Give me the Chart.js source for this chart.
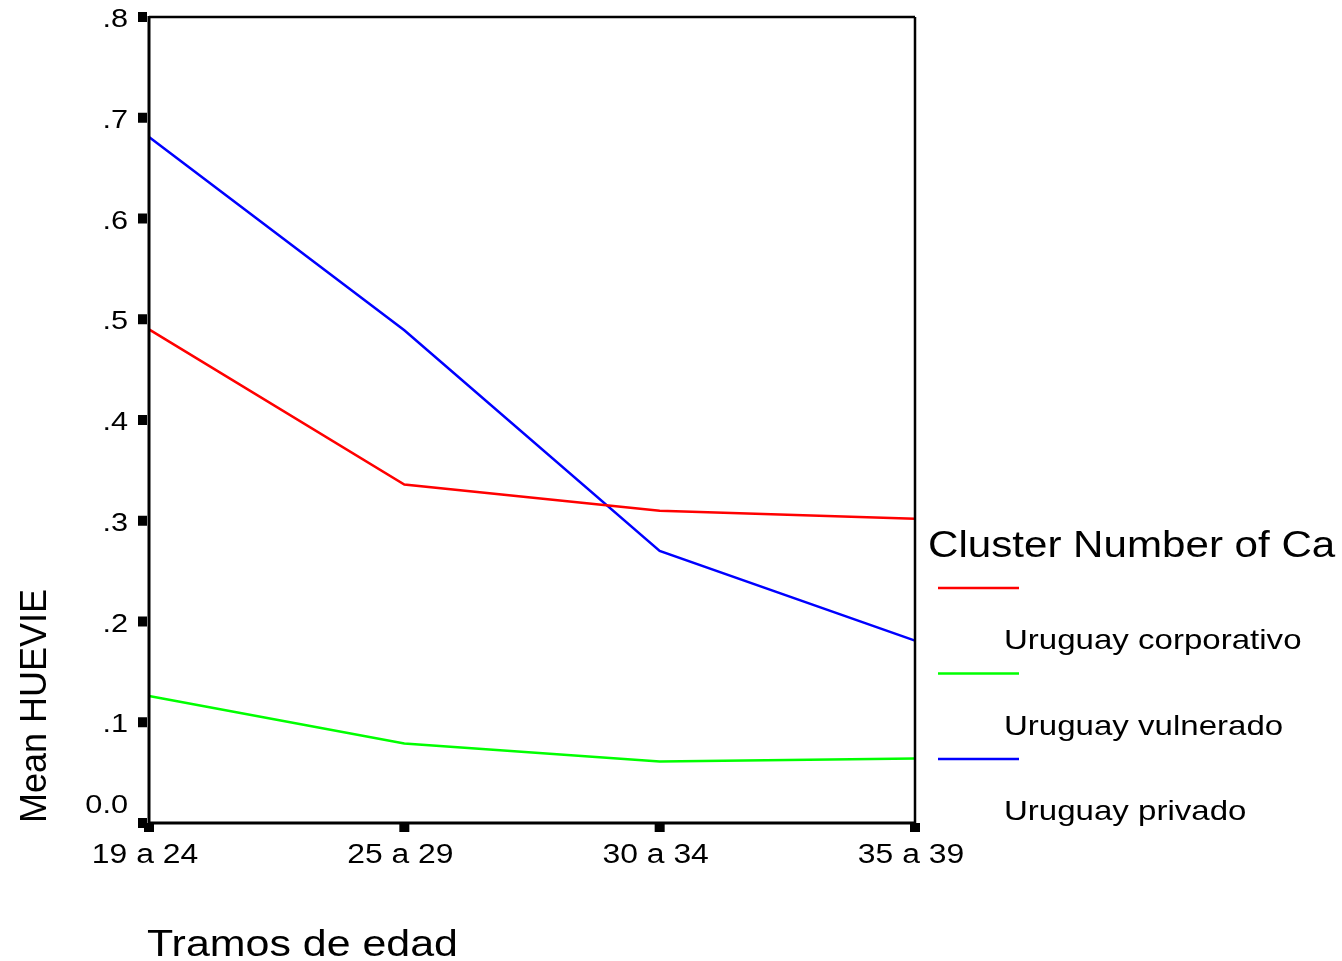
<!DOCTYPE html>
<html>
<head>
<meta charset="utf-8">
<title>Mean HUEVIE por tramos de edad</title>
<script src="https://cdn.jsdelivr.net/npm/chart.js@4/dist/chart.umd.min.js"></script>
<style>
    html, body { margin: 0; padding: 0; background: #fff; }
    canvas { display: block; }
</style>
</head>
<body>
<canvas id="huevieChart" width="1342" height="961"></canvas>
<script>
// data
var ageGroups = ['19 a 24', '25 a 29', '30 a 34', '35 a 39'];
var corporativo = [0.490, 0.336, 0.310, 0.302];
var vulnerado = [0.126, 0.079, 0.061, 0.064];
var privado = [0.681, 0.489, 0.270, 0.181];
var yTicks = [0, 0.1, 0.2, 0.3, 0.4, 0.5, 0.6, 0.7, 0.8];
var yTickLabels = ['0.0', '.1', '.2', '.3', '.4', '.5', '.6', '.7', '.8'];

var FONT = "'Liberation Sans', Arial, sans-serif";
var STRETCH = 1.18; // the export is a bit wider than tall

// text with a horizontal stretch, anchored at x,y
function wideText(ctx, text, x, y, sx) {
    ctx.save();
    ctx.translate(x, y);
    ctx.scale(sx, 1);
    ctx.fillText(text, 0, 0);
    ctx.restore();
}

// draws the frame, square ticks, labels, titles and the legend (SPSS look)
var spssDecor = {
    id: 'spssDecor',
    afterDatasetsDraw: function(chart) {
        var ctx = chart.ctx;
        var area = chart.chartArea;
        var xScale = chart.scales.x;
        var yScale = chart.scales.y;
        var i;

        ctx.save();
        ctx.fillStyle = '#000';
        ctx.strokeStyle = '#000';

        // frame
        ctx.lineWidth = 2.5;
        ctx.beginPath();
        ctx.moveTo(area.left, area.top);
        ctx.lineTo(area.right, area.top);
        ctx.moveTo(area.right, area.top);
        ctx.lineTo(area.right, area.bottom);
        ctx.stroke();
        ctx.lineWidth = 3;
        ctx.beginPath();
        ctx.moveTo(area.left, area.top - 1);
        ctx.lineTo(area.left, area.bottom);
        ctx.lineTo(area.right + 1, area.bottom);
        ctx.stroke();

        // y ticks and labels
        ctx.font = '26px ' + FONT;
        ctx.textAlign = 'right';
        ctx.textBaseline = 'alphabetic';
        for (i = 0; i < yTicks.length; i++) {
            var y = yScale.getPixelForValue(yTicks[i]);
            ctx.fillRect(area.left - 11, y - 5, 9, 10);
            var baseY = yTicks[i] === 0 ? y - 10 : y + 10;
            wideText(ctx, yTickLabels[i], 128, baseY, STRETCH);
        }

        // x ticks and labels
        ctx.textAlign = 'center';
        ctx.font = '27px ' + FONT;
        for (i = 0; i < ageGroups.length; i++) {
            var x = xScale.getPixelForValue(i);
            ctx.fillRect(x - 5, area.bottom, 10, 9);
            wideText(ctx, ageGroups[i], x - 4, 863, STRETCH);
        }

        // axis titles
        ctx.font = '37px ' + FONT;
        ctx.textAlign = 'left';
        wideText(ctx, 'Tramos de edad', 147, 956, 1.16);
        ctx.save();
        ctx.translate(46, area.bottom);
        ctx.rotate(-Math.PI / 2);
        ctx.font = '36px ' + FONT;
        ctx.fillText('Mean HUEVIE', 0, 0);
        ctx.restore();

        // legend
        ctx.font = '36px ' + FONT;
        wideText(ctx, 'Cluster Number of Ca', 928, 557, 1.17);
        ctx.font = '28px ' + FONT;
        ctx.lineWidth = 2.5;
        var sets = chart.data.datasets;
        for (i = 0; i < sets.length; i++) {
            var ly = 588 + i * 85.5;
            ctx.strokeStyle = sets[i].borderColor;
            ctx.beginPath();
            ctx.moveTo(938, ly);
            ctx.lineTo(1019, ly);
            ctx.stroke();
            wideText(ctx, sets[i].label, 1004, ly + 61, STRETCH);
        }
        ctx.restore();
    }
};

var ctx = document.getElementById('huevieChart').getContext('2d');
var chart = new Chart(ctx, {
    // The type of chart we want to create
    type: 'line',

    // The data for our dataset
    data: {
        labels: ageGroups,
        datasets: [{
            label: 'Uruguay corporativo',
            borderColor: '#ff0000',
            backgroundColor: '#ff0000',
            data: corporativo
        }, {
            label: 'Uruguay vulnerado',
            borderColor: '#00ff00',
            backgroundColor: '#00ff00',
            data: vulnerado
        }, {
            label: 'Uruguay privado',
            borderColor: '#0000ff',
            backgroundColor: '#0000ff',
            data: privado
        }]
    },

    // Configuration options go here
    options: {
        responsive: false,
        animation: false,
        layout: {
            padding: { left: 149, right: 427, top: 17, bottom: 138 }
        },
        elements: {
            line: { borderWidth: 2.5, tension: 0 },
            point: { radius: 0 }
        },
        scales: {
            x: { type: 'category', offset: false, display: false },
            y: { min: 0, max: 0.8, display: false }
        },
        plugins: {
            legend: { display: false },
            tooltip: { enabled: false }
        }
    },
    plugins: [spssDecor]
});
</script>
</body>
</html>
